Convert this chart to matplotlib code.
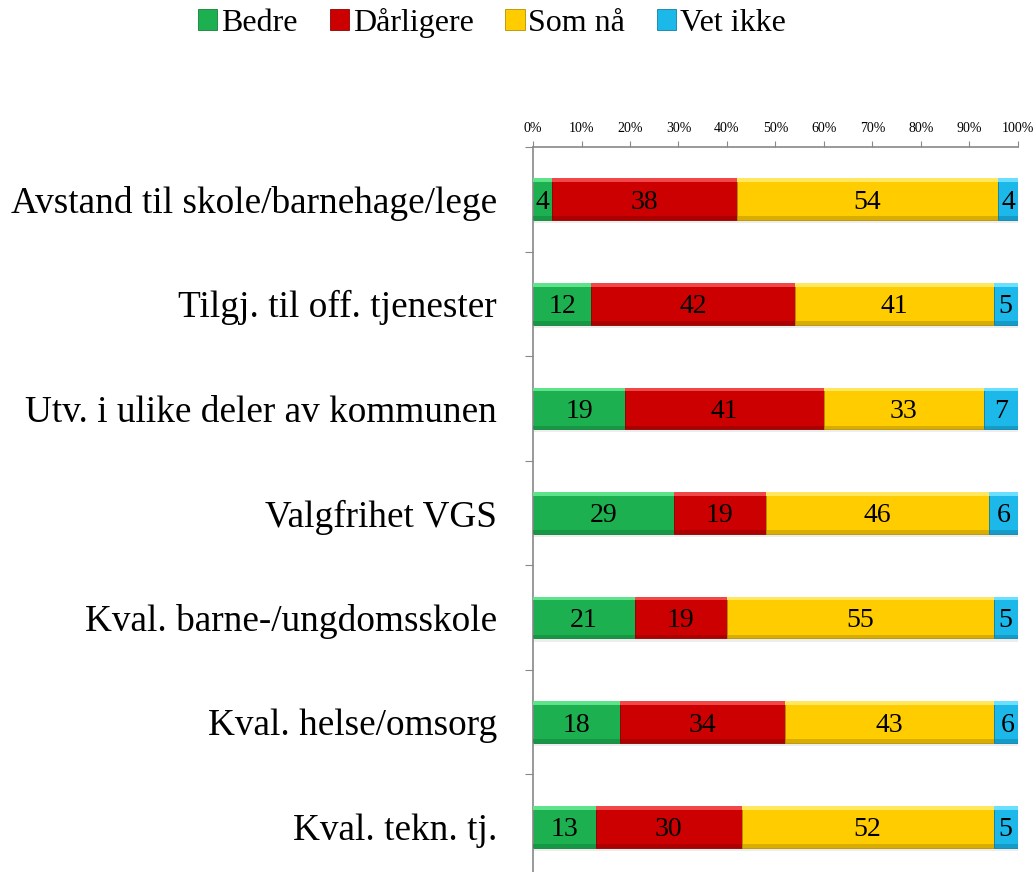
import numpy as np
import matplotlib.pyplot as plt
from matplotlib.patches import Patch

categories = ['Avstand til skole/barnehage/lege', 'Tilgj. til off. tjenester',
              'Utv. i ulike deler av kommunen', 'Valgfrihet VGS',
              'Kval. barne-/ungdomsskole', 'Kval. helse/omsorg', 'Kval. tekn. tj.']
series_names = ['Bedre', 'Dårligere', 'Som nå', 'Vet ikke']
bedre = [4, 12, 19, 29, 21, 18, 13]
darligere = [38, 42, 41, 19, 19, 34, 30]
som_na = [54, 41, 33, 46, 55, 43, 52]
vet_ikke = [4, 5, 7, 6, 5, 6, 5]
tick_vals = [0, 10, 20, 30, 40, 50, 60, 70, 80, 90, 100]
tick_labels = [f'{v}%' for v in tick_vals]

colors = ['#1DB050', '#CC0000', '#FFCC00', '#1CB8EA']
light = ['#5FE38A', '#F04848', '#FFE860', '#6ADFFF']
dark = ['#11803A', '#8E0000', '#B38F00', '#0E7FA6']

plt.rcParams['font.family'] = ['Liberation Serif', 'DejaVu Serif']

fig = plt.figure(figsize=(10.36, 8.72), dpi=100)
ax = fig.add_axes([0.5145, -0.008, 0.468, 0.8394])

y = np.arange(len(categories))
h = 0.4
data = [bedre, darligere, som_na, vet_ikke]
left = np.zeros(len(categories))
for vals, c, lc, dc in zip(data, colors, light, dark):
    vals = np.array(vals, dtype=float)
    # drop shadow
    ax.barh(y + 0.03, vals, h, left=left, color='#000000', alpha=0.07, zorder=1)
    ax.barh(y, vals, h, left=left, color=c, edgecolor=dc, linewidth=0.6, zorder=2)
    # bevel highlights
    ax.barh(y - h / 2 + 0.018, vals, 0.036, left=left, color=lc, linewidth=0, zorder=3)
    ax.barh(y + h / 2 - 0.018, vals, 0.036, left=left, color=dc, alpha=0.5, linewidth=0, zorder=3)
    for yi, v, l in zip(y, vals, left):
        ax.text(l + v / 2, yi, f'{int(v)}', ha='center', va='center_baseline',
                fontsize=20, color='black', zorder=4)
    left += vals

ax.set_xlim(0, 100)
ax.set_ylim(len(categories) - 0.5, -0.5)
ax.xaxis.tick_top()
ax.set_xticks(tick_vals)
ax.set_xticklabels(tick_labels, fontsize=10)
ax.tick_params(axis='x', direction='out', length=4, color='#888888', pad=5)

ax.set_yticks(np.arange(len(categories) + 1) - 0.5, minor=False)
ax.set_yticklabels([])
ax.set_yticks(y, minor=True)
ax.set_yticklabels(categories, minor=True, fontsize=26.8)
ax.tick_params(axis='y', which='major', direction='out', length=6, color='#888888')
ax.tick_params(axis='y', which='minor', length=0, pad=26)

for s in ['right', 'bottom']:
    ax.spines[s].set_visible(False)
for s in ['top', 'left']:
    ax.spines[s].set_color('#888888')
    ax.spines[s].set_linewidth(1.2)

handles = [Patch(facecolor=c, edgecolor=dc, linewidth=0.6) for c, dc in zip(colors, dark)]
fig.legend(handles, series_names, loc='center', bbox_to_anchor=(0.475, 0.974), ncol=4,
           frameon=False, fontsize=23, handlelength=0.6, handleheight=0.6,
           handletextpad=0.12, columnspacing=1.0)

fig.savefig('out.png', dpi=100)
